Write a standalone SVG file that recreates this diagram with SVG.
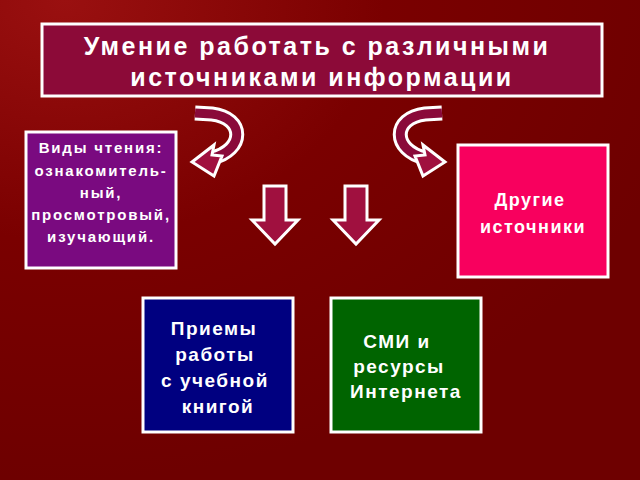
<svg xmlns="http://www.w3.org/2000/svg" width="640" height="480" viewBox="0 0 640 480">
<defs>
<radialGradient id="bg" cx="0.1" cy="0" r="1"><stop offset="0" stop-color="#9a1010"/><stop offset="0.5" stop-color="#7a0000"/><stop offset="1" stop-color="#6e0000"/></radialGradient>
<style>
.b{stroke:#fff;stroke-width:3}
.t{font-family:"Liberation Sans",Arial,sans-serif;font-weight:bold;fill:#fff;text-anchor:middle;letter-spacing:1.5px}
.ao{fill:none;stroke:#fff;stroke-width:15}
.ai{fill:none;stroke:#8a0a3a;stroke-width:9}
.ah{fill:#a0103f;stroke:#fff;stroke-width:3;stroke-linejoin:miter}
</style>
</defs>
<rect width="640" height="480" fill="url(#bg)"/>
<g id="title"><rect x="42" y="24" width="560" height="72" fill="#8c0a38" class="b"/>
<text class="t" x="317" y="55" font-size="25" style="letter-spacing:2.5px">Умение работать с различными</text>
<text class="t" x="322" y="86" font-size="25" style="letter-spacing:2.5px">источниками  информации</text></g>
<g id="reading"><rect x="26" y="132" width="150" height="136" fill="#7a0a80" class="b"/>
<text class="t" font-size="15" style="letter-spacing:1.8px"><tspan x="101" y="153">Виды чтения:</tspan><tspan x="101" y="176">ознакомитель-</tspan><tspan x="101" y="198">ный,</tspan><tspan x="101" y="220">просмотровый,</tspan><tspan x="101" y="242">изучающий.</tspan></text></g>
<g id="other"><rect x="458" y="145" width="150" height="132" fill="#f8005e" class="b"/>
<text class="t" font-size="18"><tspan x="530" y="206">Другие</tspan><tspan x="533" y="233">источники</tspan></text></g>
<g id="methods"><rect x="143" y="298" width="150" height="134" fill="#000080" class="b"/>
<text class="t" font-size="19"><tspan x="214" y="335">Приемы</tspan><tspan x="215" y="361">работы</tspan><tspan x="215" y="387">с учебной</tspan><tspan x="218" y="413">книгой</tspan></text></g>
<g id="media"><rect x="331" y="298" width="150" height="134" fill="#006400" class="b"/>
<text class="t" font-size="19"><tspan x="397" y="348">СМИ и</tspan><tspan x="399" y="373">ресурсы</tspan><tspan x="406" y="398">Интернета</tspan></text></g>
<g id="connectors">
<path class="ao" d="M195 113 L212 114 C245 118 245 150 212 158"/>
<path class="ai" d="M195 113 L212 114 C245 118 245 150 212 158"/>
<polygon class="ah" points="192,162 214,145 212,155 222,156 214,176"/>
<path class="ao" d="M442 113 L425 114 C392 118 392 150 425 158"/>
<path class="ai" d="M442 113 L425 114 C392 118 392 150 425 158"/>
<polygon class="ah" points="445,162 423,145 425,155 415,156 423,176"/>
<polygon class="ah" points="264,186 286,186 286,220 298,220 275,244 252,220 264,220"/>
<polygon class="ah" points="345,186 367,186 367,220 379,220 356,244 333,220 345,220"/>
</g>
</svg>
